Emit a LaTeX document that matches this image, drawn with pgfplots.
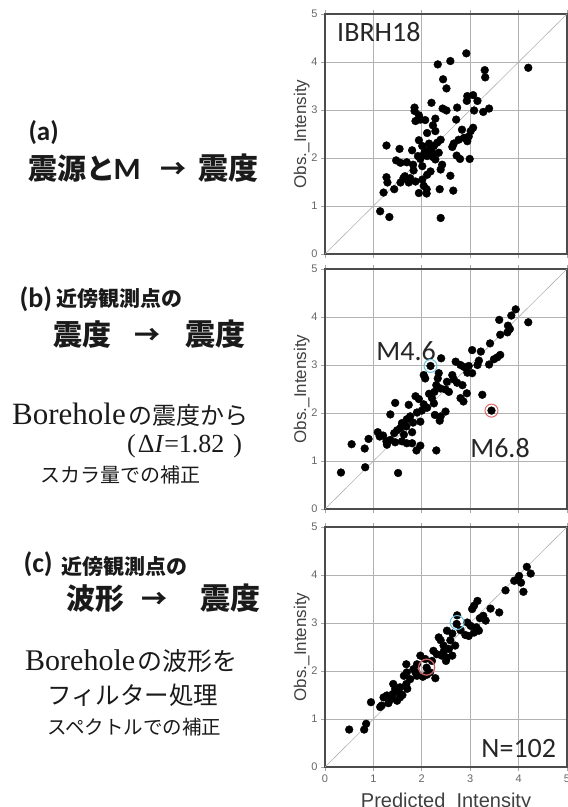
\documentclass[border=0pt]{standalone}
\usepackage{fontspec}
\usepackage{pgfplots}
\pgfplotsset{compat=1.18}
\setmainfont{Liberation Sans}
\newfontfamily\jp{Noto Sans CJK JP}
\newfontfamily\calfont{Carlito}
\newfontfamily\serfont{Liberation Serif}
\definecolor{txt}{HTML}{1A1A1A}
\definecolor{ringblue}{HTML}{6EC3E0}
\definecolor{ringred}{HTML}{E06A6A}
\newcommand{\fs}[1]{\fontsize{#1}{#1}\selectfont}

\pgfplotsset{myax/.style={
  scale only axis, width=242pt, height=240pt,
  xmin=0, xmax=5, ymin=0, ymax=5,
  xtick={0,1,2,3,4,5}, ytick={0,1,2,3,4,5},
  grid=major, grid style={color=gray!60, line width=0.7pt},
  axis line style={color=black!70, line width=1.4pt},
  tick align=outside, major tick length=4pt,
  tick style={color=gray!70, line width=0.7pt},
  ticklabel style={font=\fs{11}, color=black!60},
  /pgf/number format/assume math mode=true,
  ylabel={Obs.\_Intensity},
  ylabel style={font=\fs{17}, color=black!75, at={(axis description cs:-0.078,0.5)}, anchor=base},
}}

\begin{document}
\begin{tikzpicture}
\useasboundingbox (0pt,0pt) rectangle (568pt,807pt);

% ---------- panel (a)
\begin{axis}[myax, at={(325pt,553pt)}, anchor=south west, xticklabels={}]
\addplot[gray!60, line width=0.6pt, no marks] coordinates {(0,0) (5,5)};
\addplot[only marks, mark=*, mark size=3.9pt, color=black] coordinates {
(2.92,4.18) (2.33,3.95) (2.59,4.02) (4.20,3.88) (3.30,3.83) (3.31,3.68) (2.44,3.64) (2.51,3.45)
(2.94,3.29) (3.06,3.31) (3.15,3.19) (2.93,3.19) (2.20,3.15) (1.85,3.05) (1.85,2.98) (2.43,3.03)
(2.51,2.99) (2.73,3.05) (3.08,2.99) (3.27,2.96) (3.39,3.03) (1.94,2.89) (1.97,2.80) (1.87,2.77)
(2.07,2.79) (2.28,2.82) (2.71,2.80) (2.23,2.68) (3.06,2.63) (3.01,2.56) (2.83,2.59) (2.28,2.56)
(2.11,2.52) (2.97,2.45) (2.87,2.42) (2.76,2.38) (2.39,2.38) (2.32,2.32) (1.94,2.37) (2.15,2.30)
(2.66,2.30) (2.63,2.23) (1.27,2.26) (2.01,2.25) (2.94,2.35) (1.54,2.19) (1.80,2.16) (2.16,2.18)
(2.07,2.14) (2.21,2.12) (2.35,2.11) (1.92,2.04) (2.11,2.04) (2.23,2.02) (2.72,2.05) (2.79,1.98)
(2.99,1.98) (1.97,1.98) (1.47,1.95) (1.56,1.90) (1.69,1.91) (1.82,1.86) (2.28,1.97) (2.42,1.86)
(2.39,1.76) (2.18,1.72) (2.11,1.65) (2.59,1.63) (1.27,1.60) (1.29,1.49) (1.56,1.49) (1.62,1.58)
(1.76,1.58) (1.87,1.51) (2.01,1.55) (1.73,1.49) (2.04,1.42) (2.10,1.35) (1.43,1.35) (1.21,1.28)
(1.94,1.27) (2.10,1.26) (2.37,1.35) (2.65,1.32) (1.14,0.89) (1.33,0.77) (2.39,0.75) (2.01,1.83)
(1.83,1.74) (2.05,2.10) (2.25,2.25) (1.65,1.62)
};
\node[anchor=base west, font=\calfont\fs{28}, text=black!85] at (axis cs:0.18,4.43) {IBRH18};
\end{axis}

% ---------- panel (b)
\begin{axis}[myax, at={(325pt,298pt)}, anchor=south west, xticklabels={}]
\addplot[gray!60, line width=0.6pt, no marks] coordinates {(0,0) (5,5)};
\addplot[only marks, mark=*, mark size=3.9pt, color=black] coordinates {
(3.94,4.16) (3.85,4.03) (4.20,3.89) (3.60,3.94) (3.78,3.82) (3.82,3.75) (3.77,3.68) (3.62,3.63)
(3.41,3.45) (3.04,3.31) (3.22,3.28) (3.62,3.21) (3.56,3.16) (3.49,3.12) (3.39,3.01) (3.18,3.09)
(2.40,3.14) (2.18,2.98) (2.70,3.07) (2.80,3.00) (2.87,2.96) (2.97,2.98) (3.15,3.00) (3.04,2.83)
(2.94,2.84) (2.04,2.79) (2.07,2.72) (2.35,2.83) (2.33,2.72) (2.63,2.79) (2.66,2.70) (2.73,2.63)
(2.84,2.58) (2.52,2.65) (2.30,2.58) (2.39,2.51) (2.49,2.49) (2.56,2.44) (2.26,2.44) (2.93,2.41)
(3.25,2.38) (2.80,2.31) (2.86,2.24) (2.21,2.31) (2.25,2.20) (1.87,2.35) (1.94,2.29) (1.73,2.17)
(2.04,2.18) (2.11,2.11) (1.45,2.21) (1.35,1.97) (1.90,2.01) (1.76,1.93) (1.69,1.87) (1.97,1.82)
(1.82,1.80) (2.27,1.96) (2.39,1.93) (2.49,2.03) (2.37,1.84) (3.44,2.05) (1.59,1.79) (1.68,1.72)
(1.56,1.69) (1.49,1.64) (1.43,1.58) (1.09,1.60) (1.13,1.51) (1.20,1.53) (1.27,1.41) (1.35,1.44)
(1.45,1.39) (1.59,1.41) (1.69,1.37) (1.80,1.37) (1.28,1.34) (0.90,1.46) (0.55,1.35) (0.82,1.26)
(1.97,1.32) (1.89,1.22) (2.30,1.22) (0.33,0.76) (0.83,0.87) (1.51,0.75) (1.63,1.55) (2.00,2.05)
(2.15,2.40) (1.80,1.60)
};
\addplot[only marks, mark=o, mark size=6.5pt, draw=ringblue, line width=1pt] coordinates {(2.18,2.98)};
\addplot[only marks, mark=o, mark size=6.5pt, draw=ringred, line width=1pt] coordinates {(3.44,2.05)};
\node[anchor=base west, font=\calfont\fs{28}, text=black!85] at (axis cs:0.99,3.10) {M4.6};
\node[anchor=base west, font=\calfont\fs{28}, text=black!85] at (axis cs:2.93,1.08) {M6.8};
\end{axis}

% ---------- panel (c)
\begin{axis}[myax, at={(325pt,40pt)}, anchor=south west,
  xlabel={Predicted\_Intensity},
  xlabel style={font=\fs{20}, color=black!75, at={(axis description cs:0.5,-0.167)}, anchor=base}]
\addplot[gray!60, line width=0.6pt, no marks] coordinates {(0,0) (5,5)};
\addplot[only marks, mark=*, mark size=3.9pt, color=black] coordinates {
(4.17,4.17) (4.25,4.03) (4.01,3.98) (3.98,3.91) (3.91,3.88) (4.05,3.84) (4.10,3.65) (3.73,3.68)
(3.15,3.46) (3.08,3.36) (3.04,3.29) (3.42,3.30) (3.60,3.22) (3.27,3.15) (3.20,3.10) (3.32,3.05)
(2.73,3.16) (2.72,2.98) (2.94,3.01) (3.01,2.94) (3.13,2.91) (3.18,2.84) (3.08,2.80) (2.90,2.75)
(2.97,2.73) (2.52,2.84) (2.63,2.78) (2.35,2.70) (2.39,2.64) (2.59,2.64) (2.69,2.53) (2.45,2.53)
(2.56,2.46) (2.24,2.42) (2.31,2.35) (2.41,2.32) (2.52,2.28) (2.63,2.32) (2.50,2.21) (1.97,2.32)
(2.07,2.25) (2.21,2.21) (1.68,2.14) (1.69,1.97) (1.83,2.04) (1.90,1.90) (2.10,2.07) (2.10,1.92)
(2.02,1.88) (2.28,1.85) (1.76,1.83) (1.68,1.73) (1.41,1.73) (1.45,1.63) (1.55,1.66) (1.70,1.63)
(1.52,1.56) (1.40,1.52) (1.28,1.49) (1.21,1.45) (1.38,1.42) (1.49,1.38) (1.55,1.45) (1.17,1.28)
(1.14,1.25) (1.31,1.33) (0.95,1.35) (0.85,0.90) (0.81,0.78) (0.50,0.78) (1.63,1.90) (2.17,1.97)
(1.90,2.14) (1.87,1.97) (2.45,2.40) (2.80,2.85) (1.60,1.50)
};
\addplot[only marks, mark=o, mark size=7pt, draw=ringblue, line width=1pt] coordinates {(2.73,3.01)};
\addplot[only marks, mark=o, mark size=8pt, draw=ringred!90!black, line width=1.3pt] coordinates {(2.10,2.08)};
\node[anchor=base west, font=\calfont\fs{28}, text=black!85] at (axis cs:3.16,0.19) {N=102};
\end{axis}

% ---------- left texts
% (a)
\node[anchor=base west, font=\calfont\bfseries\fs{27}, text=txt] at (25pt,666pt) {(a)};
\node[anchor=base west, font=\jp\bfseries\fs{29}, text=txt] at (25pt,627pt) {震源と};
\node[anchor=base west, font=\calfont\bfseries\fs{31}, text=txt] at (110pt,627pt) {M};
\node[anchor=base west, font=\jp\bfseries\fs{26}, text=txt] at (157pt,628pt) {→};
\node[anchor=base west, font=\jp\bfseries\fs{30}, text=txt] at (195pt,627pt) {震度};
% (b)
\node[anchor=base west, font=\calfont\bfseries\fs{28}, text=txt] at (16pt,499pt) {(b)};
\node[anchor=base west, font=\jp\bfseries\fs{21}, text=txt] at (53pt,500pt) {近傍観測点の};
\node[anchor=base west, font=\jp\bfseries\fs{29}, text=txt] at (50pt,461pt) {震度};
\node[anchor=base west, font=\jp\bfseries\fs{26}, text=txt] at (131pt,462pt) {→};
\node[anchor=base west, font=\jp\bfseries\fs{30}, text=txt] at (182pt,461pt) {震度};
\node[anchor=base west, font=\serfont\fs{31}, text=txt, inner sep=0pt] at (12pt,382pt) {Borehole};
\node[anchor=base west, font=\jp\fs{24}, text=txt, inner sep=0pt] at (128pt,382pt) {の震度から};
\node[anchor=base west, font=\serfont\fs{26}, text=txt, inner sep=0pt] at (127pt,354pt) {(\hspace{2pt}Δ\textit{I}=1.82\hspace{9pt})};
\node[anchor=base west, font=\jp\fs{20}, text=txt, inner sep=0pt] at (40pt,324pt) {スカラ量での補正};
% (c)
\node[anchor=base west, font=\calfont\bfseries\fs{28}, text=txt] at (20pt,234pt) {(c)};
\node[anchor=base west, font=\jp\bfseries\fs{21}, text=txt] at (58pt,232pt) {近傍観測点の};
\node[anchor=base west, font=\jp\bfseries\fs{29}, text=txt] at (63pt,197pt) {波形};
\node[anchor=base west, font=\jp\bfseries\fs{26}, text=txt] at (138pt,198pt) {→};
\node[anchor=base west, font=\jp\bfseries\fs{30}, text=txt] at (197pt,197pt) {震度};
\node[anchor=base west, font=\serfont\fs{30}, text=txt, inner sep=0pt] at (25pt,136pt) {Borehole};
\node[anchor=base west, font=\jp\fs{25}, text=txt, inner sep=0pt] at (137pt,136pt) {の波形を};
\node[anchor=base west, font=\jp\fs{24.5}, text=txt, inner sep=0pt] at (47pt,102pt) {フィルター処理};
\node[anchor=base west, font=\jp\fs{19.5}, text=txt, inner sep=0pt] at (47pt,72pt) {スペクトルでの補正};
\end{tikzpicture}
\end{document}
